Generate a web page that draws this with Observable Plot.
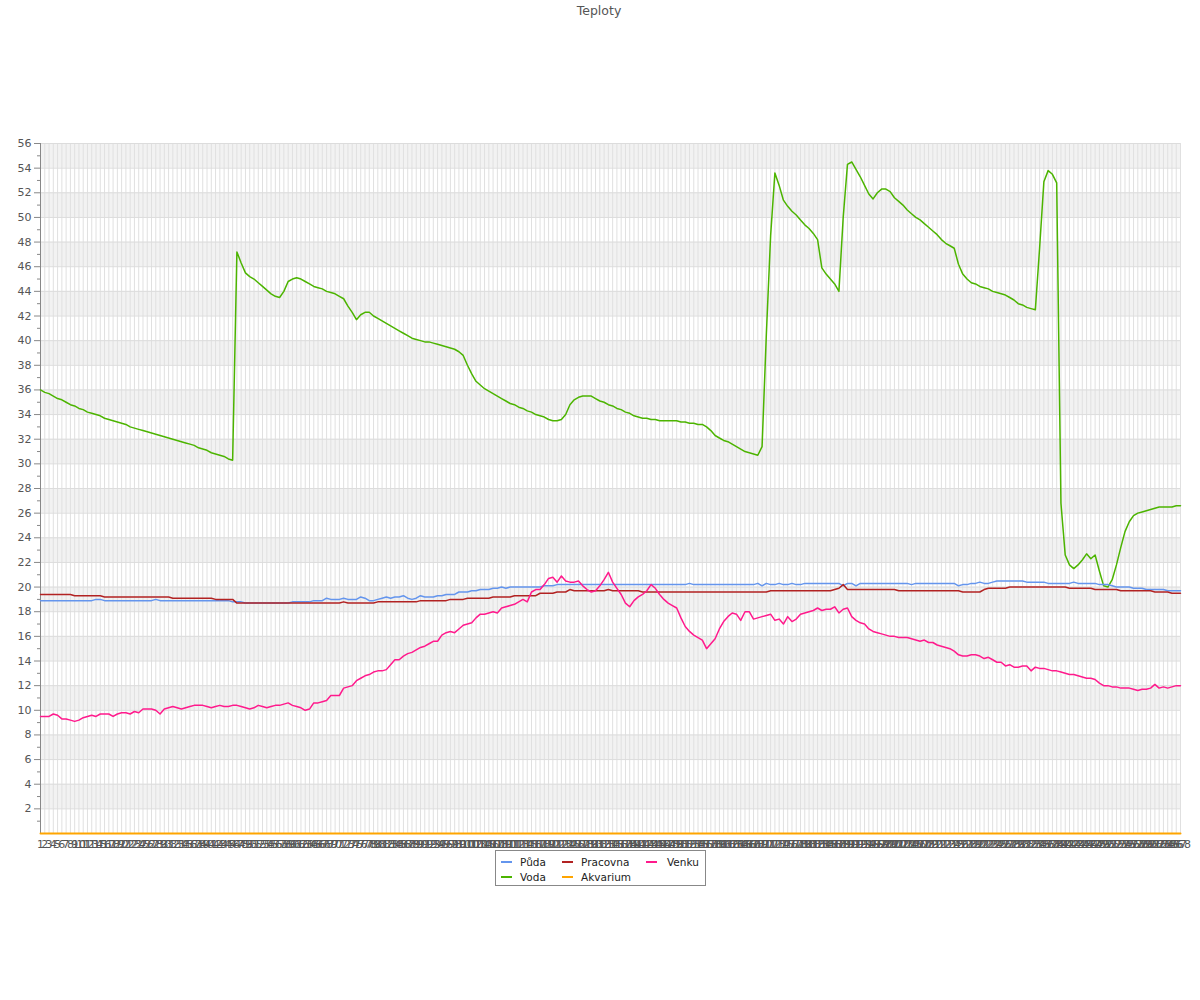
<!DOCTYPE html>
<html>
<head>
<meta charset="utf-8">
<script src="https://cdn.jsdelivr.net/npm/d3@7"></script>
<script src="https://cdn.jsdelivr.net/npm/@observablehq/plot@0.6"></script>
<style>
  body { margin: 0; background: #fff; font-family: "DejaVu Sans", sans-serif; }
  #wrap { position: relative; width: 1200px; height: 1000px; }
  #title { position: absolute; left: 0; top: 3px; width: 1198px; text-align: center; font-size: 12.5px; color: #555; }
  #chart { position: absolute; left: 0; top: 0; }
  #legend { position: absolute; left: 495px; top: 850px; width: 211px; height: 36px; border: 1px solid #888; box-sizing: border-box; background: #fff; font-size: 10.5px; color: #222; }
  .sw { position: absolute; height: 2px; width: 11px; }
  .lt { position: absolute; line-height: 12px; }
</style>
</head>
<body>
<div id="wrap">
  <div id="chart"></div>
  <div id="title">Teploty</div>
  <div id="legend"></div>
</div>
<script>
// x categories (měření 1..268)
const days = d3.range(1, 269);

// y tick labels
const yTicks = [2,4,6,8,10,12,14,16,18,20,22,24,26,28,30,32,34,36,38,40,42,44,46,48,50,52,54,56];
const yMinorTicks = [1,3,5,7,9,11,13,15,17,19,21,23,25,27,29,31,33,35,37,39,41,43,45,47,49,51,53,55];

const seriesNames = ["Půda", "Voda", "Pracovna", "Akvarium", "Venku"];
const seriesColors = ["#6495ed", "#4cb400", "#b22222", "#ffa500", "#ff1a8c"];

const puda = [
18.9,18.9,18.9,18.9,18.9,18.9,18.9,18.9,18.9,18.9,
18.9,18.9,18.9,19.0,19.0,18.9,18.9,18.9,18.9,18.9,
18.9,18.9,18.9,18.9,18.9,18.9,18.9,19.0,18.9,18.9,
18.9,18.9,18.9,18.9,18.9,18.9,18.9,18.9,18.9,18.9,
18.9,18.9,18.9,18.9,18.9,18.8,18.8,18.8,18.7,18.7,
18.7,18.7,18.7,18.7,18.7,18.7,18.7,18.7,18.7,18.8,
18.8,18.8,18.8,18.8,18.9,18.9,18.9,19.1,19.0,19.0,
19.0,19.1,19.0,19.0,19.0,19.2,19.1,18.9,18.9,19.0,
19.1,19.2,19.1,19.2,19.2,19.3,19.1,19.0,19.1,19.3,
19.2,19.2,19.2,19.3,19.3,19.4,19.4,19.4,19.6,19.6,
19.6,19.7,19.7,19.8,19.8,19.8,19.9,19.9,20.0,19.9,
20.0,20.0,20.0,20.0,20.0,20.0,20.0,20.0,20.1,20.1,
20.1,20.2,20.2,20.2,20.2,20.2,20.2,20.2,20.2,20.2,
20.2,20.2,20.2,20.2,20.2,20.2,20.2,20.2,20.2,20.2,
20.2,20.2,20.2,20.2,20.2,20.2,20.2,20.2,20.2,20.2,
20.2,20.2,20.3,20.2,20.2,20.2,20.2,20.2,20.2,20.2,
20.2,20.2,20.2,20.2,20.2,20.2,20.2,20.2,20.3,20.1,
20.3,20.2,20.2,20.3,20.2,20.2,20.3,20.2,20.2,20.3,
20.3,20.3,20.3,20.3,20.3,20.3,20.3,20.3,20.1,20.3,
20.3,20.1,20.3,20.3,20.3,20.3,20.3,20.3,20.3,20.3,
20.3,20.3,20.3,20.3,20.2,20.3,20.3,20.3,20.3,20.3,
20.3,20.3,20.3,20.3,20.3,20.1,20.2,20.2,20.3,20.3,
20.4,20.3,20.3,20.4,20.5,20.5,20.5,20.5,20.5,20.5,
20.5,20.4,20.4,20.4,20.4,20.4,20.3,20.3,20.3,20.3,
20.3,20.3,20.4,20.3,20.3,20.3,20.3,20.3,20.2,20.2,
20.2,20.1,20.0,20.0,20.0,20.0,19.9,19.9,19.9,19.8,
19.8,19.8,19.8,19.8,19.7,19.7,19.7,19.7
];

const voda = [
36.0,35.8,35.7,35.5,35.3,35.2,35.0,34.8,34.7,34.5,
34.4,34.2,34.1,34.0,33.9,33.7,33.6,33.5,33.4,33.3,
33.2,33.0,32.9,32.8,32.7,32.6,32.5,32.4,32.3,32.2,
32.1,32.0,31.9,31.8,31.7,31.6,31.5,31.3,31.2,31.1,
30.9,30.8,30.7,30.6,30.4,30.3,47.2,46.3,45.5,45.2,
45.0,44.7,44.4,44.1,43.8,43.6,43.5,44.0,44.8,45.0,
45.1,45.0,44.8,44.6,44.4,44.3,44.2,44.0,43.9,43.8,
43.6,43.4,42.8,42.3,41.7,42.1,42.3,42.3,42.0,41.8,
41.6,41.4,41.2,41.0,40.8,40.6,40.4,40.2,40.1,40.0,
39.9,39.9,39.8,39.7,39.6,39.5,39.4,39.3,39.1,38.8,
38.0,37.3,36.7,36.4,36.1,35.9,35.7,35.5,35.3,35.1,
34.9,34.8,34.6,34.5,34.3,34.2,34.0,33.9,33.8,33.6,
33.5,33.5,33.6,34.0,34.8,35.2,35.4,35.5,35.5,35.5,
35.3,35.1,35.0,34.8,34.7,34.5,34.4,34.2,34.1,33.9,
33.8,33.7,33.7,33.6,33.6,33.5,33.5,33.5,33.5,33.5,
33.4,33.4,33.3,33.3,33.2,33.2,33.0,32.7,32.3,32.1,
31.9,31.8,31.6,31.4,31.2,31.0,30.9,30.8,30.7,31.4,
40.5,48.5,53.6,52.6,51.4,50.9,50.5,50.2,49.8,49.4,
49.1,48.7,48.2,45.9,45.4,45.0,44.6,44.0,50.0,54.3,
54.5,53.9,53.3,52.6,51.9,51.5,52.0,52.3,52.3,52.1,
51.6,51.3,51.0,50.6,50.3,50.0,49.8,49.5,49.2,48.9,
48.6,48.2,47.9,47.7,47.5,46.2,45.4,45.0,44.7,44.6,
44.4,44.3,44.2,44.0,43.9,43.8,43.7,43.5,43.3,43.0,
42.9,42.7,42.6,42.5,47.5,52.9,53.8,53.5,52.8,26.8,
22.6,21.8,21.5,21.8,22.2,22.7,22.3,22.6,21.3,20.1,
20.0,20.6,21.8,23.2,24.5,25.3,25.8,26.0,26.1,26.2,
26.3,26.4,26.5,26.5,26.5,26.5,26.6,26.6
];

const pracovna = [
19.4,19.4,19.4,19.4,19.4,19.4,19.4,19.4,19.3,19.3,
19.3,19.3,19.3,19.3,19.3,19.2,19.2,19.2,19.2,19.2,
19.2,19.2,19.2,19.2,19.2,19.2,19.2,19.2,19.2,19.2,
19.2,19.1,19.1,19.1,19.1,19.1,19.1,19.1,19.1,19.1,
19.1,19.0,19.0,19.0,19.0,19.0,18.7,18.7,18.7,18.7,
18.7,18.7,18.7,18.7,18.7,18.7,18.7,18.7,18.7,18.7,
18.7,18.7,18.7,18.7,18.7,18.7,18.7,18.7,18.7,18.7,
18.7,18.8,18.7,18.7,18.7,18.7,18.7,18.7,18.7,18.8,
18.8,18.8,18.8,18.8,18.8,18.8,18.8,18.8,18.8,18.9,
18.9,18.9,18.9,18.9,18.9,18.9,19.0,19.0,19.0,19.0,
19.1,19.1,19.1,19.1,19.1,19.1,19.2,19.2,19.2,19.2,
19.2,19.3,19.3,19.3,19.3,19.3,19.3,19.5,19.5,19.5,
19.5,19.6,19.6,19.6,19.8,19.7,19.7,19.7,19.7,19.7,
19.7,19.7,19.7,19.8,19.7,19.7,19.7,19.7,19.7,19.7,
19.7,19.6,19.6,19.6,19.6,19.6,19.6,19.6,19.6,19.6,
19.6,19.6,19.6,19.6,19.6,19.6,19.6,19.6,19.6,19.6,
19.6,19.6,19.6,19.6,19.6,19.6,19.6,19.6,19.6,19.6,
19.6,19.7,19.7,19.7,19.7,19.7,19.7,19.7,19.7,19.7,
19.7,19.7,19.7,19.7,19.7,19.7,19.8,19.9,20.2,19.8,
19.8,19.8,19.8,19.8,19.8,19.8,19.8,19.8,19.8,19.8,
19.8,19.7,19.7,19.7,19.7,19.7,19.7,19.7,19.7,19.7,
19.7,19.7,19.7,19.7,19.7,19.7,19.6,19.6,19.6,19.6,
19.6,19.8,19.9,19.9,19.9,19.9,19.9,20.0,20.0,20.0,
20.0,20.0,20.0,20.0,20.0,20.0,20.0,20.0,20.0,20.0,
20.0,19.9,19.9,19.9,19.9,19.9,19.9,19.8,19.8,19.8,
19.8,19.8,19.8,19.7,19.7,19.7,19.7,19.7,19.7,19.7,
19.7,19.6,19.6,19.6,19.6,19.5,19.5,19.5
];

const akvarium = [
0,0,0,0,0,0,0,0,0,0,0,0,0,0,0,0,0,0,0,0,
0,0,0,0,0,0,0,0,0,0,0,0,0,0,0,0,0,0,0,0,
0,0,0,0,0,0,0,0,0,0,0,0,0,0,0,0,0,0,0,0,
0,0,0,0,0,0,0,0,0,0,0,0,0,0,0,0,0,0,0,0,
0,0,0,0,0,0,0,0,0,0,0,0,0,0,0,0,0,0,0,0,
0,0,0,0,0,0,0,0,0,0,0,0,0,0,0,0,0,0,0,0,
0,0,0,0,0,0,0,0,0,0,0,0,0,0,0,0,0,0,0,0,
0,0,0,0,0,0,0,0,0,0,0,0,0,0,0,0,0,0,0,0,
0,0,0,0,0,0,0,0,0,0,0,0,0,0,0,0,0,0,0,0,
0,0,0,0,0,0,0,0,0,0,0,0,0,0,0,0,0,0,0,0,
0,0,0,0,0,0,0,0,0,0,0,0,0,0,0,0,0,0,0,0,
0,0,0,0,0,0,0,0,0,0,0,0,0,0,0,0,0,0,0,0,
0,0,0,0,0,0,0,0,0,0,0,0,0,0,0,0,0,0,0,0,
0,0,0,0,0,0,0,0
];

const venku = [
9.5,9.5,9.5,9.7,9.6,9.3,9.3,9.2,9.1,9.2,
9.4,9.5,9.6,9.5,9.7,9.7,9.7,9.5,9.7,9.8,
9.8,9.7,9.9,9.8,10.1,10.1,10.1,10.0,9.7,10.1,
10.2,10.3,10.2,10.1,10.2,10.3,10.4,10.4,10.4,10.3,
10.2,10.3,10.4,10.3,10.3,10.4,10.4,10.3,10.2,10.1,
10.2,10.4,10.3,10.2,10.3,10.4,10.4,10.5,10.6,10.4,
10.3,10.2,10.0,10.1,10.6,10.6,10.7,10.8,11.2,11.2,
11.2,11.8,11.9,12.0,12.4,12.6,12.8,12.9,13.1,13.2,
13.2,13.3,13.7,14.1,14.1,14.4,14.6,14.7,14.9,15.1,
15.2,15.4,15.6,15.6,16.1,16.3,16.4,16.3,16.6,16.9,
17.0,17.1,17.5,17.8,17.8,17.9,18.0,17.9,18.3,18.4,
18.5,18.6,18.8,19.0,18.8,19.6,19.8,19.8,20.2,20.7,
20.8,20.4,20.9,20.5,20.4,20.4,20.5,20.1,19.8,19.6,
19.7,20.1,20.6,21.2,20.4,19.9,19.4,18.7,18.4,18.9,
19.2,19.4,19.7,20.2,19.9,19.4,19.0,18.7,18.5,18.3,
17.5,16.8,16.4,16.1,15.9,15.7,15.0,15.4,15.8,16.6,
17.2,17.6,17.9,17.8,17.3,18.0,18.0,17.4,17.5,17.6,
17.7,17.8,17.3,17.4,17.0,17.6,17.2,17.4,17.8,17.9,
18.0,18.1,18.3,18.1,18.2,18.2,18.4,17.9,18.2,18.3,
17.6,17.3,17.1,17.0,16.6,16.4,16.3,16.2,16.1,16.0,
16.0,15.9,15.9,15.9,15.8,15.7,15.6,15.7,15.5,15.5,
15.3,15.2,15.1,15.0,14.8,14.5,14.4,14.4,14.5,14.5,
14.4,14.2,14.3,14.1,13.9,13.9,13.6,13.7,13.5,13.5,
13.6,13.6,13.2,13.5,13.4,13.4,13.3,13.2,13.2,13.1,
13.0,12.9,12.9,12.8,12.7,12.6,12.6,12.5,12.2,12.0,
12.0,11.9,11.9,11.8,11.8,11.8,11.7,11.6,11.7,11.7,
11.8,12.1,11.8,11.9,11.8,11.9,12.0,12.0
];

const seriesValues = [puda, voda, pracovna, akvarium, venku];

// long table for Plot
const rows = [];
seriesNames.forEach((name, k) => {
  seriesValues[k].forEach((v, i) => rows.push({name, day: days[i], value: v}));
});

// alternating horizontal bands (2–4, 6–8, …, 54–56)
const bands = yTicks.filter(t => t % 4 === 2).map(t => ({y1: t, y2: t + 2}));
const xFirst = days[0], xLast = days[days.length - 1];

const drawOrder = ["Voda", "Půda", "Pracovna", "Venku", "Akvarium"];

const chart = Plot.plot({
  width: 1200,
  height: 880,
  marginTop: 143,
  marginBottom: 47,
  marginLeft: 40,
  marginRight: 20,
  style: {fontFamily: "DejaVu Sans", fontSize: "11px", color: "#555", background: "transparent", overflow: "visible"},
  x: {type: "linear", domain: [xFirst, xLast], label: null},
  y: {domain: [0, 56], label: null},
  color: {domain: seriesNames, range: seriesColors},
  marks: [
    Plot.rect(bands, {x1: () => xFirst, x2: () => xLast, y1: "y1", y2: "y2", fill: "#f2f2f2"}),
    Plot.ruleX(days, {stroke: "#e0e0e0", strokeWidth: 1}),
    Plot.ruleY(yTicks, {stroke: "#dcdcdc", strokeWidth: 1}),
    Plot.axisY({ticks: yTicks, tickSize: 6, tickPadding: 3, stroke: "#888", fill: "#555", label: null}),
    Plot.axisY({ticks: yMinorTicks, tickSize: 3, tickFormat: () => "", stroke: "#888", label: null}),
    Plot.ruleX([xFirst], {stroke: "#888", strokeWidth: 1}),
    Plot.axisX({ticks: days, tickSize: 0, tickPadding: 7, tickFormat: d => String(d), fill: "#555", label: null}),
    ...drawOrder.map(n => Plot.line(rows.filter(r => r.name === n), {x: "day", y: "value", stroke: "name", strokeWidth: n === "Akvarium" ? 2 : 1.5}))
  ]
});
document.getElementById("chart").appendChild(chart);

// legend
const legendPos = [
  {name: "Půda", sx: 5, tx: 24, y: 5},
  {name: "Pracovna", sx: 66, tx: 85, y: 5},
  {name: "Venku", sx: 150, tx: 171, y: 5},
  {name: "Voda", sx: 5, tx: 24, y: 20},
  {name: "Akvarium", sx: 66, tx: 85, y: 20}
];
const lg = document.getElementById("legend");
legendPos.forEach(p => {
  const c = seriesColors[seriesNames.indexOf(p.name)];
  const sw = document.createElement("div");
  sw.className = "sw";
  sw.style.left = p.sx + "px";
  sw.style.top = (p.y + 5) + "px";
  sw.style.background = c;
  lg.appendChild(sw);
  const t = document.createElement("div");
  t.className = "lt";
  t.style.left = p.tx + "px";
  t.style.top = p.y + "px";
  t.textContent = p.name;
  lg.appendChild(t);
});
</script>
</body>
</html>
